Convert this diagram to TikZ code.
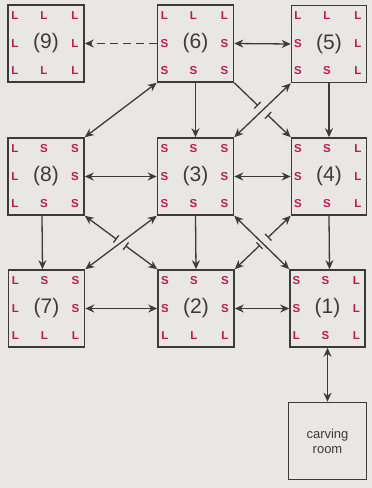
\documentclass[tikz,border=0pt]{standalone}
\usepackage{fontspec}
\setmainfont{Liberation Sans}
\usetikzlibrary{arrows.meta,calc}
\definecolor{paper}{HTML}{E8E7E4}
\definecolor{ink}{HTML}{3E393B}
\definecolor{redmark}{HTML}{C0194E}
\newcommand\roomletters[9]{%
  \node[lt] at ($(#1.center)+(-31,-28)$) {#2};
  \node[lt] at ($(#1.center)+(-2,-28)$) {#3};
  \node[lt] at ($(#1.center)+(29,-28)$) {#4};
  \node[lt] at ($(#1.center)+(-31,0)$) {#5};
  \node[lt] at ($(#1.center)+(29,0)$) {#6};
  \node[lt] at ($(#1.center)+(-31,27)$) {#7};
  \node[lt] at ($(#1.center)+(-2,27)$) {#8};
  \node[lt] at ($(#1.center)+(29,27)$) {#9};
}
\begin{document}
\begin{tikzpicture}[x=1pt,y=-1pt,
  room/.style={draw=ink, line width=1.6pt, minimum width=76pt, minimum height=77pt,
    inner sep=0pt, text=ink, font=\fontsize{21}{21}\selectfont},
  lt/.style={text=redmark, inner sep=0pt, font=\bfseries\fontsize{11.5}{11.5}\selectfont},
  conn/.style={draw=ink, line width=1.3pt},
  one/.style={conn, -{Stealth[length=9pt,width=8pt]}},
  dbl/.style={conn, {Stealth[length=9pt,width=8pt]}-{Stealth[length=9pt,width=8pt]}},
  barend/.style={conn, -{Bar[width=9pt]}},
  barstart/.style={conn, {Bar[width=9pt]}-{Stealth[length=9pt,width=8pt]}},
  arrbar/.style={conn, {Stealth[length=9pt,width=8pt]}-{Bar[width=9pt]}}]
\fill[paper] (0,0) rectangle (372,488);
\useasboundingbox (0,0) rectangle (372,488);
% rooms
\node[room] (n9) at (46,43.5) {(9)};
\node[room] (n6) at (195.5,43.5) {(6)};
\node[room, minimum width=75pt] (n5) at (329,44) {(5)};
\node[room] (n8) at (46,176.5) {(8)};
\node[room] (n3) at (195.5,176.5) {(3)};
\node[room, minimum width=75pt] (n4) at (329,176.5) {(4)};
\node[room] (n7) at (46.5,308.5) {(7)};
\node[room] (n2) at (196,308.5) {(2)};
\node[room, minimum width=75pt] (n1) at (327.5,308.5) {(1)};
\node[room, minimum width=78pt, font=\fontsize{13}{15}\selectfont, align=center] (cr) at (327.5,441) {carving\\room};
% letters
\roomletters{n9}{L}{L}{L}{L}{L}{L}{L}{L}
\roomletters{n6}{L}{L}{L}{S}{S}{S}{S}{S}
\roomletters{n5}{L}{L}{L}{S}{L}{S}{S}{L}
\roomletters{n8}{L}{S}{S}{L}{S}{L}{S}{S}
\roomletters{n3}{S}{S}{S}{S}{S}{S}{S}{S}
\roomletters{n4}{S}{S}{L}{S}{L}{S}{S}{L}
\roomletters{n7}{L}{S}{S}{L}{S}{L}{L}{L}
\roomletters{n2}{S}{S}{S}{S}{S}{L}{L}{L}
\roomletters{n1}{S}{S}{L}{S}{L}{L}{S}{L}
% top row
\draw[one, dash pattern=on 8pt off 5pt] (n6.west) -- (n9.east);
\draw[dbl] (n6.east) -- (n5.west);
\draw[dbl] (n6.south west) -- (n8.north east);
\draw[one] (n6.south) -- (n3.north);
\draw[one] (n5.south) -- (n4.north);
\draw[dbl] (n5.south west) -- (n3.north east);
\coordinate (a1) at ($(n6.south east)!0.42!(n4.north west)$);
\coordinate (a2) at ($(n6.south east)!0.59!(n4.north west)$);
\draw[barend] (n6.south east) -- (a1);
\draw[barstart] (a2) -- (n4.north west);
% middle row
\draw[dbl] (n8.east) -- (n3.west);
\draw[dbl] (n3.east) -- (n4.west);
\draw[one] ([xshift=-4pt]n8.south) -- ([xshift=-4pt]n7.north);
\draw[one] (n3.south) -- (n2.north);
\draw[one] (n4.south) -- ([xshift=2pt]n1.north);
\draw[dbl] (n3.south west) -- (n7.north east);
\draw[dbl] (n3.south east) -- (n1.north west);
\coordinate (b1) at ($(n8.south east)!0.44!(n2.north west)$);
\coordinate (b2) at ($(n8.south east)!0.56!(n2.north west)$);
\draw[arrbar] (n8.south east) -- (b1);
\draw[barstart] (b2) -- (n2.north west);
\coordinate (c1) at ($(n4.south west)!0.41!(n2.north east)$);
\coordinate (c2) at ($(n4.south west)!0.55!(n2.north east)$);
\draw[arrbar] (n4.south west) -- (c1);
\draw[barstart] (c2) -- (n2.north east);
% bottom row
\draw[dbl] (n7.east) -- (n2.west);
\draw[dbl] (n2.east) -- (n1.west);
\draw[dbl] (n1.south) -- (cr.north);
\end{tikzpicture}
\end{document}
